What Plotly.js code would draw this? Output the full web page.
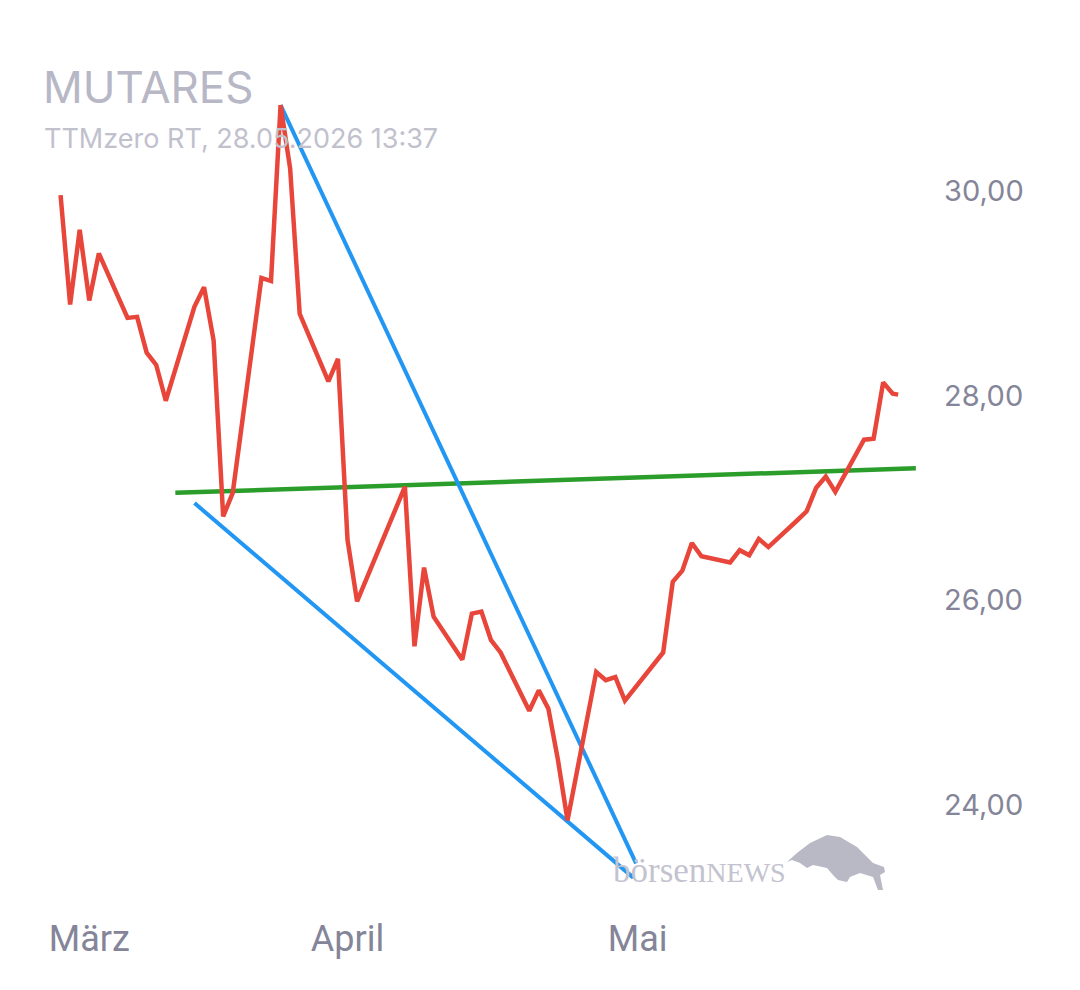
<!DOCTYPE html>
<html>
<head>
<meta charset="utf-8">
<script src="https://cdn.plot.ly/plotly-3.0.1.min.js"></script>
<style>html,body{margin:0;padding:0;background:#fff;}#chart{width:1080px;height:990px;}</style>
</head>
<body>
<div id="chart"></div>
<script>
// Price series (MUTARES, TTMzero RT)
const dates = [
  '2026-03-02','2026-03-03','2026-03-04','2026-03-05','2026-03-06',
  '2026-03-09','2026-03-10','2026-03-11','2026-03-12','2026-03-13',
  '2026-03-16','2026-03-17','2026-03-18','2026-03-19','2026-03-20',
  '2026-03-23','2026-03-24','2026-03-25','2026-03-26','2026-03-27',
  '2026-03-30','2026-03-31','2026-04-01','2026-04-02',
  '2026-04-07','2026-04-08','2026-04-09','2026-04-10',
  '2026-04-13','2026-04-14','2026-04-15','2026-04-16','2026-04-17',
  '2026-04-20','2026-04-21','2026-04-22','2026-04-23','2026-04-24',
  '2026-04-27','2026-04-28','2026-04-29','2026-04-30',
  '2026-05-04','2026-05-05','2026-05-06','2026-05-07','2026-05-08',
  '2026-05-11','2026-05-12','2026-05-13','2026-05-14','2026-05-15',
  '2026-05-18','2026-05-19','2026-05-20','2026-05-21','2026-05-22',
  '2026-05-25','2026-05-26','2026-05-27','2026-05-28','2026-05-28 13:37'
];
const prices = [
  29.96, 28.89, 29.62, 28.93, 29.39,
  28.76, 28.77, 28.42, 28.30, 27.95,
  28.87, 29.06, 28.54, 26.82, 27.05,
  29.15, 29.12, 30.84, 30.22, 28.80,
  28.14, 28.36, 26.59, 25.99,
  27.11, 25.55, 26.32, 25.84,
  25.42, 25.87, 25.89, 25.61, 25.49,
  24.92, 25.12, 24.94, 24.44, 23.85,
  25.30, 25.22, 25.25, 25.02,
  25.49, 26.18, 26.29, 26.56, 26.43,
  26.37, 26.49, 26.44, 26.60, 26.52,
  26.78, 26.87, 27.10, 27.21, 27.06,
  27.57, 27.58, 28.13, 28.02, 28.01
];

// Drawn trend lines
const upperTrendDates = ['2026-03-25', '2026-05-01 04:00'];
const upperTrendValues = [30.84, 23.43];
const lowerTrendDates = ['2026-03-16', '2026-04-30 21:00'];
const lowerTrendValues = [26.95, 23.29];
const levelDates = ['2026-03-14', '2026-05-30 10:00'];
const levelValues = [27.05, 27.29];

// Axis labels
const monthTickVals = ['2026-03-05', '2026-04-01', '2026-05-01 08:00'];
const monthLabels = ['März', 'April', 'Mai'];
const priceTicks = [24, 26, 28, 30];

const title = 'MUTARES';
const subtitle = 'TTMzero RT, 28.05.2026 13:37';

const traces = [
  {x: levelDates, y: levelValues, type: 'scatter', mode: 'lines',
   line: {color: '#2a9d2a', width: 4.5}, hoverinfo: 'skip'},
  {x: upperTrendDates, y: upperTrendValues, type: 'scatter', mode: 'lines',
   line: {color: '#2196f3', width: 4}, hoverinfo: 'skip'},
  {x: lowerTrendDates, y: lowerTrendValues, type: 'scatter', mode: 'lines',
   line: {color: '#2196f3', width: 4}, hoverinfo: 'skip'},
  {x: dates, y: prices, type: 'scatter', mode: 'lines',
   line: {color: '#e8463a', width: 4.5}}
];

const bullPath = 'M 0 29 L 10 38 L 23 48 L 40 56 L 53 54 L 70 44 L 86 28 L 97 24 L 98 19 L 93 16 L 96 1 L 91 1 L 86 14 L 73 18 L 63 14 L 60 9 L 51 11 L 46 16 L 40 23 L 26 26 L 20 23 L 13 28 L 5 31 Z';

const layout = {
  width: 1080, height: 990,
  paper_bgcolor: '#ffffff', plot_bgcolor: '#ffffff',
  showlegend: false,
  margin: {l: 51, r: 160, t: 95, b: 100},
  title: {
    text: title,
    font: {family: 'Inter, Roboto, sans-serif', size: 44, color: '#b7b7c6'},
    x: 43/1080, xref: 'container', xanchor: 'left',
    y: 1 - 88/990, yref: 'container', yanchor: 'middle'
  },
  xaxis: {
    type: 'date',
    range: ['2026-03-01 00:00', '2026-05-30 20:25'],
    showgrid: false, zeroline: false, showline: false,
    ticks: '', tickmode: 'array',
    tickvals: monthTickVals, ticktext: monthLabels,
    tickfont: {family: 'Roboto, sans-serif', size: 36, color: '#858599'},
    ticklabelstandoff: 24
  },
  yaxis: {
    side: 'right',
    range: [23.169, 30.938],
    showgrid: false, zeroline: false, showline: false,
    ticks: '', tickmode: 'array',
    tickvals: priceTicks,
    ticktext: priceTicks.map(v => v.toFixed(2).replace('.', ',')),
    tickfont: {family: 'Inter, Roboto, sans-serif', size: 29, color: '#858599'},
    ticklabelstandoff: 23
  },
  annotations: [
    {text: subtitle, xref: 'paper', yref: 'paper', x: 0, xshift: -9,
     y: 1, yshift: -(138 - 95), xanchor: 'left', yanchor: 'middle', showarrow: false,
     font: {family: 'Inter, Roboto, sans-serif', size: 27, color: '#c1c1cd'}},
    {text: 'börsen<span style="font-size:28px">NEWS</span>', xref: 'paper', yref: 'paper',
     x: (611 - 51)/869, y: 0, yshift: 890 - 870, xanchor: 'left', yanchor: 'middle',
     showarrow: false,
     font: {family: '"Liberation Serif", "DejaVu Serif", serif', size: 35, color: '#c3c3cf'}}
  ],
  shapes: [
    {type: 'path', xref: 'paper', yref: 'paper', xsizemode: 'pixel', ysizemode: 'pixel',
     xanchor: (787 - 51)/869, yanchor: -1/795, path: bullPath,
     fillcolor: '#b9b9c5', line: {width: 0}, layer: 'below'}
  ]
};

Plotly.newPlot('chart', traces, layout, {displayModeBar: false, staticPlot: true});
</script>
</body>
</html>
